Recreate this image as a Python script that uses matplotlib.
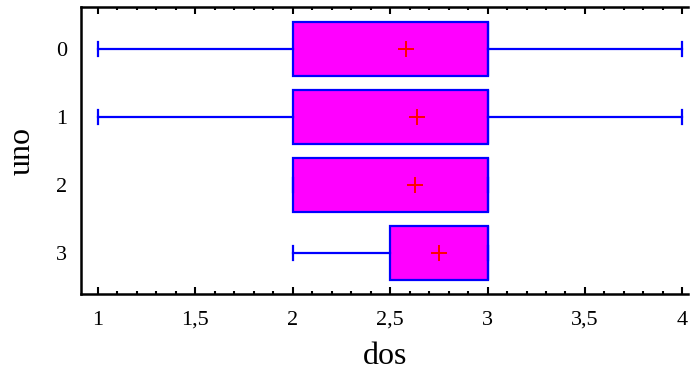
import matplotlib.pyplot as plt
from matplotlib.ticker import MultipleLocator, FuncFormatter

# box plot stats (dos by uno)
groups = ['0', '1', '2', '3']
q1 = [2.0, 2.0, 2.0, 2.5]
q3 = [3.0, 3.0, 3.0, 3.0]
med = [3.0, 3.0, 3.0, 3.0]
whislo = [1.0, 1.0, 2.0, 2.0]
whishi = [4.0, 4.0, 3.0, 3.0]
means = [2.58, 2.636, 2.63, 2.75]

plt.rcParams['font.family'] = ['Liberation Serif', 'DejaVu Serif']

stats = []
for i in range(len(groups)):
    stats.append(dict(label=groups[i], q1=q1[i], q3=q3[i], med=med[i],
                      whislo=whislo[i], whishi=whishi[i], mean=means[i], fliers=[]))

fig = plt.figure(figsize=(6.9, 3.74), dpi=100)
ax = fig.add_axes([0.1174, 0.214, 0.88, 0.767])

blue = '#0000ff'
ax.bxp(stats, positions=range(len(groups)), vert=False, widths=0.79,
       patch_artist=True, showmeans=True, capwidths=0.2,
       boxprops=dict(facecolor='#ff00ff', edgecolor=blue, linewidth=1.6),
       whiskerprops=dict(color=blue, linewidth=1.6),
       capprops=dict(color=blue, linewidth=1.6),
       medianprops=dict(color=blue, linewidth=1.6),
       meanprops=dict(marker='+', markeredgecolor='red', markersize=11,
                      markeredgewidth=1.4, linestyle='none'))

ax.set_xlim(0.913, 4.03)
ax.set_ylim(3.6, -0.62)
ax.set_yticks(range(len(groups)))
ax.set_yticklabels(groups)

ax.xaxis.set_major_locator(MultipleLocator(0.5))
ax.xaxis.set_minor_locator(MultipleLocator(0.1))
ax.xaxis.set_major_formatter(FuncFormatter(lambda v, p: ('%g' % v).replace('.', ',')))
ax.tick_params(axis='x', which='both', direction='in', top=True, bottom=True,
               labelsize=16, width=1.5, pad=12)
ax.tick_params(axis='x', which='major', length=5)
ax.tick_params(axis='x', which='minor', length=2)
ax.tick_params(axis='y', length=0, labelsize=16, pad=10)

for s in ['left', 'bottom', 'top']:
    ax.spines[s].set_linewidth(1.8)
ax.spines['right'].set_visible(False)

ax.set_xlabel('dos', fontsize=23, labelpad=9)
ax.set_ylabel('uno', fontsize=23, labelpad=14)

fig.savefig('out.png', dpi=100)
